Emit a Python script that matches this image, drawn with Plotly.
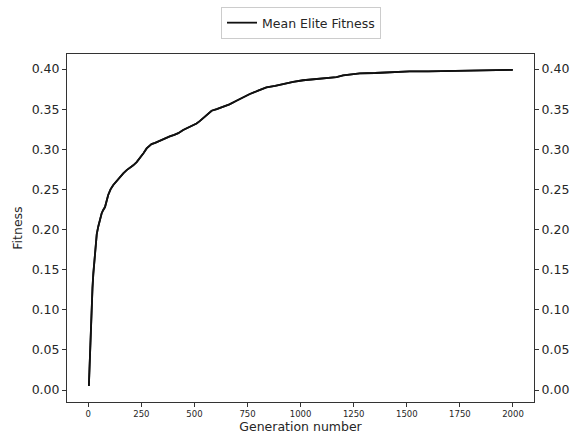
import plotly.graph_objects as go

generation = [3, 8, 12, 16, 20, 24, 28, 32, 40, 47, 55, 63, 70, 79, 94, 105, 118, 135, 149, 165,
              181, 197, 212, 228, 243, 260, 275, 287, 298, 315, 337, 360, 384, 405, 424, 447, 480,
              510, 525, 541, 560, 581, 605, 635, 665, 698, 730, 761, 800, 839, 880, 918, 965, 1012,
              1050, 1090, 1137, 1169, 1200, 1231, 1279, 1350, 1420, 1514, 1600, 1700, 1765, 1850,
              1922, 1999]
mean_elite_fitness = [0.005, 0.046, 0.078, 0.104, 0.127, 0.145, 0.160, 0.175, 0.194, 0.2035, 0.213,
                      0.220, 0.224, 0.228, 0.243, 0.250, 0.2555, 0.261, 0.266, 0.270, 0.274, 0.277,
                      0.280, 0.284, 0.2887, 0.295, 0.301, 0.304, 0.3065, 0.308, 0.3107, 0.313,
                      0.316, 0.318, 0.320, 0.324, 0.328, 0.332, 0.335, 0.3386, 0.344, 0.348, 0.350,
                      0.353, 0.356, 0.3605, 0.365, 0.3688, 0.373, 0.377, 0.379, 0.3813, 0.384,
                      0.386, 0.387, 0.388, 0.3885, 0.390, 0.392, 0.393, 0.3946, 0.395, 0.3958,
                      0.397, 0.397, 0.3975, 0.398, 0.398, 0.399, 0.399]

x_ticks = [0, 250, 500, 750, 1000, 1250, 1500, 1750, 2000]
y_ticks = [0.00, 0.05, 0.10, 0.15, 0.20, 0.25, 0.30, 0.35, 0.40]
y_tick_labels = ["0.00", "0.05", "0.10", "0.15", "0.20", "0.25", "0.30", "0.35", "0.40"]

FONT = "DejaVu Sans"
TXT = "#262626"
x_range = [-100, 2099]
y_range = [-0.01495, 0.4187]

fig = go.Figure()
fig.add_trace(go.Scatter(x=generation, y=mean_elite_fitness, mode="lines",
                         name="Mean Elite Fitness",
                         line=dict(color="#111111", width=1.8)))
fig.add_trace(go.Scatter(x=generation, y=mean_elite_fitness, mode="lines",
                         showlegend=False, hoverinfo="skip", yaxis="y2",
                         line=dict(color="#111111", width=1.8)))

axis_common = dict(showgrid=False, zeroline=False, showline=True, linecolor="#333333",
                   linewidth=1, ticks="outside", ticklen=4, tickwidth=1, tickcolor="#333333",
                   automargin=False)

fig.update_layout(
    width=576, height=440,
    margin=dict(l=67, r=42, t=54, b=38, autoexpand=False),
    paper_bgcolor="white", plot_bgcolor="white",
    font=dict(family=FONT, color=TXT),
    showlegend=True,
    legend=dict(xref="container", yref="container", x=0.5226, xanchor="center",
                y=0.984, yanchor="top",
                orientation="h", bordercolor="#cccccc", borderwidth=1,
                font=dict(size=12.5, family=FONT, color=TXT), itemwidth=30),
    xaxis=dict(range=x_range, tickvals=x_ticks, tickfont=dict(size=8.5, family=FONT, color=TXT),
               mirror=True,
               title=dict(text="Generation number", font=dict(size=12.5, family=FONT, color=TXT),
                          standoff=4),
               **axis_common),
    yaxis=dict(range=y_range, tickvals=y_ticks, ticktext=y_tick_labels,
               tickfont=dict(size=12.5, family=FONT, color=TXT),
               title=dict(text="Fitness", font=dict(size=12.5, family=FONT, color=TXT),
                          standoff=6),
               **axis_common),
    yaxis2=dict(range=y_range, tickvals=y_ticks, ticktext=y_tick_labels, overlaying="y",
                side="right", matches="y",
                tickfont=dict(size=12.5, family=FONT, color=TXT),
                **axis_common),
)

fig.write_html("out.html",
               config={"displayModeBar": False},
               post_script="document.body.style.margin='0';document.body.style.padding='0';")
